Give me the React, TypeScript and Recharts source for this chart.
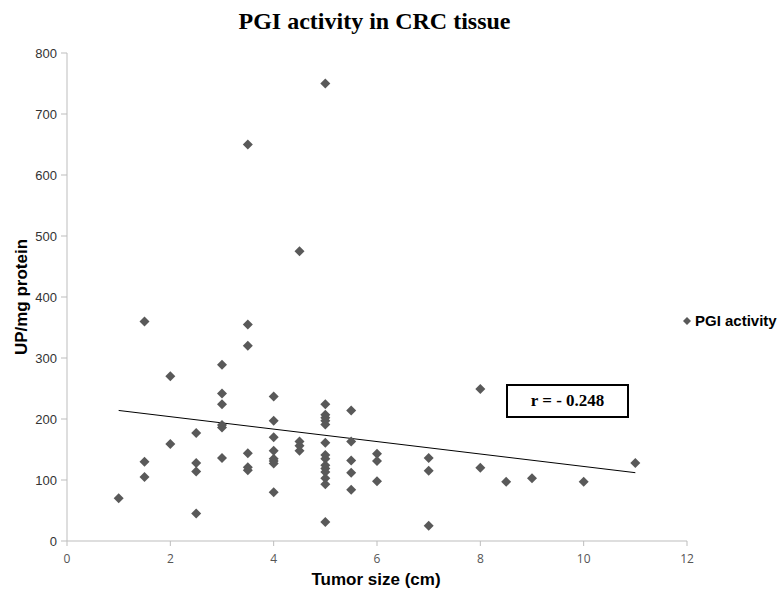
import { ScatterChart, Scatter, XAxis, YAxis, ReferenceLine } from 'recharts'

// tumor size (cm) and PGI activity (UP/mg protein)
const sizes = [
  1,
  1.5, 1.5, 1.5,
  2, 2,
  2.5, 2.5, 2.5, 2.5,
  3, 3, 3, 3, 3, 3,
  3.5, 3.5, 3.5, 3.5, 3.5, 3.5,
  4, 4, 4, 4, 4, 4, 4, 4,
  4.5, 4.5, 4.5, 4.5,
  5, 5, 5, 5, 5, 5, 5, 5, 5, 5, 5, 5, 5, 5, 5,
  5.5, 5.5, 5.5, 5.5, 5.5,
  6, 6, 6,
  7, 7, 7,
  8, 8,
  8.5, 9, 10, 11,
]
const activity = [
  70,
  360, 130, 105,
  270, 159,
  177, 128, 114, 45,
  289, 242, 224, 190, 186, 136,
  650, 355, 320, 144, 121, 116,
  237, 197, 170, 148, 135, 131, 127, 80,
  475, 163, 156, 148,
  750, 224, 207, 202, 197, 191, 161, 141, 135, 124, 119, 113, 103, 93, 31,
  214, 163, 132, 112, 84,
  143, 131, 98,
  136, 115, 25,
  249, 120,
  97, 103, 97, 128,
]
const trend = [
  { x: 1, y: 214 },
  { x: 11, y: 112 },
]
const xTicks = [0, 2, 4, 6, 8, 10, 12]
const yTicks = [0, 100, 200, 300, 400, 500, 600, 700, 800]
const seriesName = 'PGI activity'

const points = sizes.map((s, i) => ({ size: s, value: activity[i] }))

const MARK = '#595959'
const AXIS = '#bdbdbd'
const SANS = '"Liberation Sans", Arial, sans-serif'

function Diamond(props: any) {
  const { cx, cy } = props
  const r = 5
  return <path d={`M${cx},${cy - r}L${cx + r},${cy}L${cx},${cy + r}L${cx - r},${cy}Z`} fill={MARK} />
}

export default function App() {
  return (
    <div style={{ position: 'absolute', left: 0, top: 0, width: 779, height: 591, background: '#fff', overflow: 'hidden' }}>
      <div
        style={{
          position: 'absolute', left: 0, width: 749, top: 8, textAlign: 'center',
          fontFamily: '"Liberation Serif", serif', fontWeight: 'bold', fontSize: 24, color: '#000',
        }}
      >
        PGI activity in CRC tissue
      </div>
      <ScatterChart width={779} height={591} margin={{ top: 53, right: 92, bottom: 0, left: 0 }}>
        <XAxis
          type="number"
          dataKey="size"
          domain={[0, 12]}
          ticks={xTicks}
          height={50}
          stroke={AXIS}
          tickSize={5}
          tickMargin={8}
          tick={{ fill: '#555', fontSize: 12, fontFamily: '"Open Sans", sans-serif' }}
        />
        <YAxis
          type="number"
          dataKey="value"
          domain={[0, 800]}
          ticks={yTicks}
          width={67}
          stroke={AXIS}
          tickSize={6}
          tickMargin={4}
          tick={{ fill: '#333', fontSize: 13, fontFamily: SANS }}
        />
        <ReferenceLine segment={trend} stroke="#000" strokeWidth={1} ifOverflow="visible" />
        <Scatter
          name={seriesName}
          data={points}
          shape={Diamond}
          fill={MARK}
          isAnimationActive={false}
        />
      </ScatterChart>
      <div style={{ position: 'absolute', left: 682, top: 312, display: 'flex', alignItems: 'center', whiteSpace: 'nowrap' }}>
        <svg width={10} height={10} style={{ marginRight: 3 }}>
          <path d="M5,1L9,5L5,9L1,5Z" fill={MARK} />
        </svg>
        <span style={{ color: '#000', fontWeight: 'bold', fontSize: 15, fontFamily: SANS }}>{seriesName}</span>
      </div>
      <div style={{ position: 'absolute', left: 22, top: 297, width: 0, height: 0 }}>
        <div
          style={{
            position: 'absolute', left: 0, top: 0, transform: 'translate(-50%, -50%) rotate(-90deg)',
            whiteSpace: 'nowrap', fontFamily: SANS, fontWeight: 'bold', fontSize: 17, color: '#000',
          }}
        >
          UP/mg protein
        </div>
      </div>
      <div
        style={{
          position: 'absolute', left: 276, width: 200, top: 570, textAlign: 'center',
          fontFamily: SANS, fontWeight: 'bold', fontSize: 17, color: '#000',
        }}
      >
        Tumor size (cm)
      </div>
      <div
        style={{
          position: 'absolute', left: 506, top: 384, width: 119, height: 30, border: '2px solid #000',
          display: 'flex', alignItems: 'center', justifyContent: 'center',
          fontFamily: '"Liberation Serif", serif', fontWeight: 'bold', fontSize: 17, color: '#000',
        }}
      >
        r = - 0.248
      </div>
    </div>
  )
}
